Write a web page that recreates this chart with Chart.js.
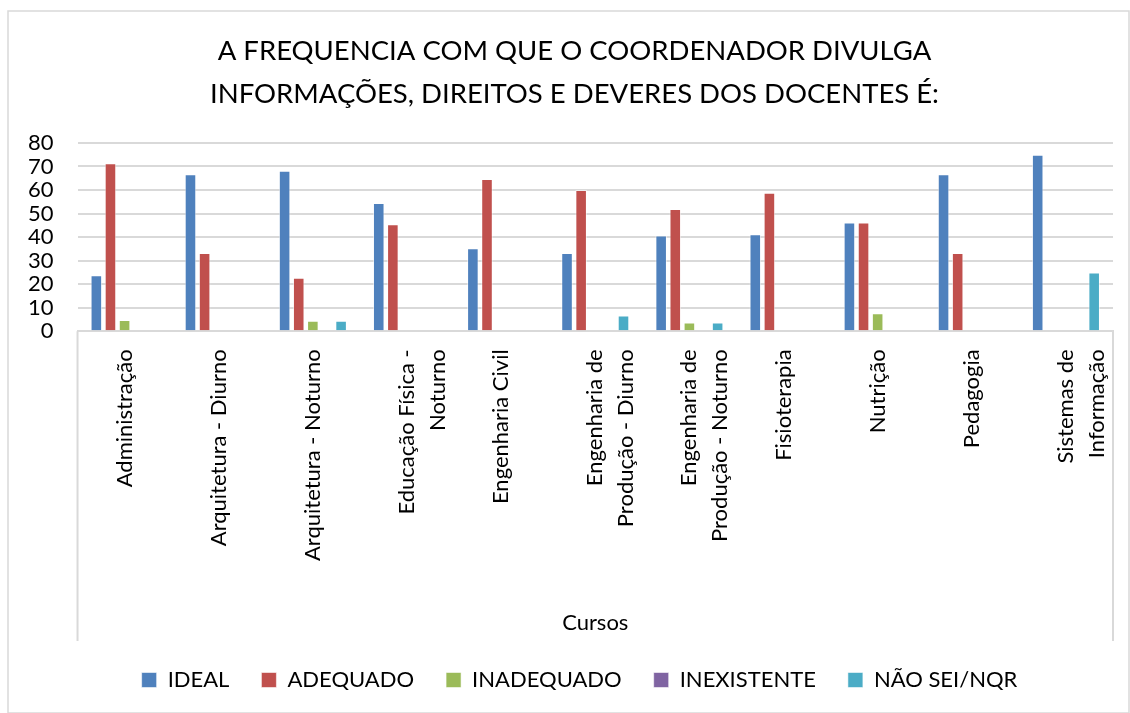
<!DOCTYPE html>
<html>
<head>
<meta charset="utf-8">
<script src="https://cdn.jsdelivr.net/npm/chart.js@4"></script>
<style>
  html, body { margin: 0; padding: 0; background: #fff; }
  #wrap { width: 1130px; height: 713px; position: relative; }
</style>
</head>
<body>
<div id="wrap"><canvas id="myChart" width="1130" height="713"></canvas></div>
<script>
const cursos = [
  'Administração',
  'Arquitetura - Diurno',
  'Arquitetura - Noturno',
  ['Educação Física -', 'Noturno'],
  'Engenharia Civil',
  ['Engenharia de', 'Produção - Diurno'],
  ['Engenharia de', 'Produção - Noturno'],
  'Fisioterapia',
  'Nutrição',
  'Pedagogia',
  ['Sistemas de', 'Informação']
]
const ideal       = [23.8, 66.7, 68.2, 54.5, 35.3, 33.3, 40.7, 41.2, 46.2, 66.7, 75.0]
const adequado    = [71.4, 33.3, 22.7, 45.5, 64.7, 60.0, 51.9, 58.8, 46.2, 33.3, 0]
const inadequado  = [4.8, 0, 4.5, 0, 0, 0, 3.7, 0, 7.7, 0, 0]
const inexistente = [0, 0, 0, 0, 0, 0, 0, 0, 0, 0, 0]
const naoSei      = [0, 0, 4.5, 0, 0, 6.7, 3.7, 0, 0, 0, 25.0]
const yTicks = [0, 10, 20, 30, 40, 50, 60, 70, 80]

const font = 'Lato, "Open Sans", sans-serif'
const grey = '#d9d9d9'

// moldura externa e linhas laterais da área de rótulos
const frame = {
  id: 'frame',
  afterLayout(chart) {
    // título e legenda do original ficam um pouco à direita do centro
    chart.titleBlock.left += 16
    chart.titleBlock.right += 16
    chart.legend.left += 21
    chart.legend.right += 21
  },
  afterDraw(chart) {
    const c = chart.ctx
    const a = chart.chartArea
    const x = chart.scales.x
    c.save()
    c.strokeStyle = grey
    c.lineWidth = 2
    c.beginPath()
    c.moveTo(a.left, a.bottom)
    c.lineTo(a.left, x.bottom + 4)
    c.moveTo(a.right, a.bottom)
    c.lineTo(a.right, x.bottom + 4)
    c.stroke()
    c.lineWidth = 1.5
    c.strokeRect(8, 11, 1121, 702)
    c.restore()
  }
}

const ctx = document.getElementById('myChart')

new Chart(ctx, {
  type: 'bar',
  data: {
    labels: cursos,
    datasets: [
      { label: 'IDEAL', data: ideal, backgroundColor: '#4f81bd' },
      { label: 'ADEQUADO', data: adequado, backgroundColor: '#c0504d' },
      { label: 'INADEQUADO', data: inadequado, backgroundColor: '#9bbb59' },
      { label: 'INEXISTENTE', data: inexistente, backgroundColor: '#8064a2' },
      { label: 'NÃO SEI/NQR', data: naoSei, backgroundColor: '#4bacc6' }
    ].map(d => ({ ...d, borderColor: 'rgba(255,255,255,0.55)', borderWidth: 1, borderSkipped: 'bottom',
      barPercentage: 0.82, categoryPercentage: 0.75 }))
  },
  options: {
    responsive: false,
    animation: false,
    layout: { padding: { top: 29, left: 4, right: 17, bottom: 12 } },
    plugins: {
      title: {
        display: true,
        text: ['A FREQUENCIA COM QUE O COORDENADOR DIVULGA', 'INFORMAÇÕES, DIREITOS E DEVERES DOS DOCENTES É:'],
        color: '#000',
        font: { family: font, size: 27.5, weight: 'normal', lineHeight: 1.58 },
        padding: { top: 0, bottom: 27 }
      },
      legend: {
        position: 'bottom',
        labels: {
          color: '#000',
          font: { family: font, size: 22 },
          boxWidth: 15,
          boxHeight: 15,
          padding: 32
        }
      },
      tooltip: { enabled: false }
    },
    scales: {
      y: {
        min: 0,
        max: 80,
        afterBuildTicks: s => { s.ticks = yTicks.map(v => ({ value: v })) },
        border: { display: false },
        grid: { color: grey, lineWidth: 2, drawTicks: false },
        ticks: { color: '#000', font: { family: font, size: 22 }, padding: 24, autoSkip: false }
      },
      x: {
        border: { display: true, color: grey, width: 2 },
        grid: { display: false },
        afterFit: s => { s.paddingLeft = 0; s.paddingRight = 0 },
        ticks: {
          color: '#000',
          font: { family: font, size: 22, lineHeight: 1.4 },
          minRotation: 90,
          maxRotation: 90,
          padding: 10,
          autoSkip: false
        },
        title: {
          display: true,
          text: 'Cursos',
          color: '#000',
          font: { family: font, size: 22, lineHeight: 1.0 },
          padding: { top: 41, bottom: 3 }
        }
      }
    }
  },
  plugins: [frame]
})
</script>
</body>
</html>
